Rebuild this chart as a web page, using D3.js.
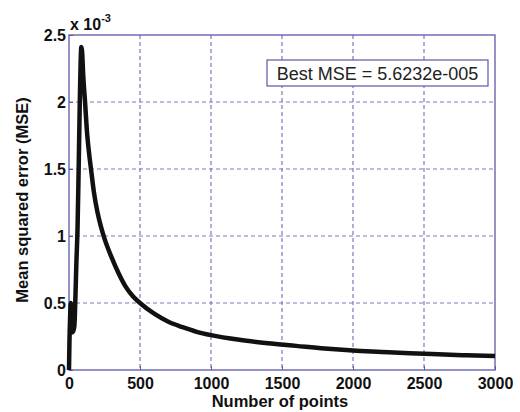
<!DOCTYPE html>
<html><head><meta charset="utf-8">
<script src="https://cdn.jsdelivr.net/npm/d3@7"></script>
<style>body{margin:0;background:#fff;}svg{display:block;}</style>
</head><body>
<script>
const points = [0,3,8,12,16,22,30,38,44,52,60,68,76,82,87,92,100,113,125,140,155,175,200,225,250,300,350,400,450,500,600,700,800,900,1000,1200,1400,1600,1800,2000,2200,2400,2600,2800,3000];
const mse = [0,0.2,0.4,0.5,0.32,0.28,0.29,0.33,0.5,0.8,1.05,1.5,2.0,2.3,2.41,2.38,2.2,2.0,1.8,1.63,1.5,1.33,1.18,1.07,0.98,0.84,0.72,0.62,0.55,0.5,0.42,0.36,0.32,0.285,0.26,0.225,0.2,0.18,0.16,0.145,0.135,0.125,0.117,0.11,0.104];
const xTicks = [0,500,1000,1500,2000,2500,3000];
const yTicks = [0,0.5,1,1.5,2,2.5];
const legendText = "Best MSE = 5.6232e-005";

const W=520,H=412, L=69,T=35,R=495,B=370;
const svg=d3.select("body").append("svg").attr("width",W).attr("height",H);
const x=d3.scaleLinear().domain([0,3000]).range([L,R]);
const y=d3.scaleLinear().domain([0,2.5]).range([B,T]);
const frame="#5c58a8", grid="#7d78c0";
const font="'Liberation Sans', Arial, sans-serif";

// grid
svg.append("g").selectAll("line").data(xTicks.slice(1,-1)).join("line")
  .attr("x1",d=>x(d)).attr("x2",d=>x(d)).attr("y1",T).attr("y2",B)
  .attr("stroke",grid).attr("stroke-width",1.2).attr("stroke-dasharray","4,3");
svg.append("g").selectAll("line").data(yTicks.slice(1,-1)).join("line")
  .attr("x1",L).attr("x2",R).attr("y1",d=>y(d)).attr("y2",d=>y(d))
  .attr("stroke",grid).attr("stroke-width",1.2).attr("stroke-dasharray","4,3");

// axes
const xa=svg.append("g").attr("transform",`translate(0,${B})`)
  .call(d3.axisBottom(x).tickValues(xTicks).tickSize(-4).tickPadding(8).tickFormat(d3.format("d")));
const ya=svg.append("g").attr("transform",`translate(${L},0)`)
  .call(d3.axisLeft(y).tickValues(yTicks).tickSize(-4).tickPadding(3).tickFormat(d=>d));
[xa,ya].forEach(a=>{
  a.select(".domain").remove();
  a.selectAll("line").attr("stroke",frame);
  a.selectAll("text").attr("fill","#111").style("font-family",font).style("font-weight","bold").style("font-size","16px");
});
// frame
svg.append("rect").attr("x",L).attr("y",T).attr("width",R-L).attr("height",B-T)
  .attr("fill","none").attr("stroke",frame).attr("stroke-width",1.3);

// line
svg.append("path").datum(points.map((p,i)=>[p,mse[i]]))
  .attr("d",d3.line().x(d=>x(d[0])).y(d=>y(d[1])).curve(d3.curveMonotoneX))
  .attr("fill","none").attr("stroke","#111").attr("stroke-width",4.5).attr("stroke-linejoin","round");

// exponent
const ex=svg.append("text").attr("x",70).attr("y",30).attr("fill","#111")
  .style("font-family",font).style("font-weight","bold").style("font-size","16px");
ex.append("tspan").text("x 10");
ex.append("tspan").attr("dy",-8).style("font-size","11px").text("-3");

// legend
svg.append("rect").attr("x",267).attr("y",60).attr("width",221).attr("height",26)
  .attr("fill","#fff").attr("stroke",frame).attr("stroke-width",1.2);
svg.append("text").attr("x",377.5).attr("y",79.5).attr("text-anchor","middle").attr("fill","#222")
  .style("font-family",font).style("font-size","18px").text(legendText);

// axis titles
svg.append("text").attr("x",280).attr("y",407).attr("text-anchor","middle").attr("fill","#111")
  .style("font-family",font).style("font-weight","bold").style("font-size","16.5px").text("Number of points");
svg.append("text").attr("transform","translate(28,200) rotate(-90)").attr("text-anchor","middle").attr("fill","#111")
  .style("font-family",font).style("font-weight","bold").style("font-size","16.5px").text("Mean squared error (MSE)");
</script>
</body></html>
